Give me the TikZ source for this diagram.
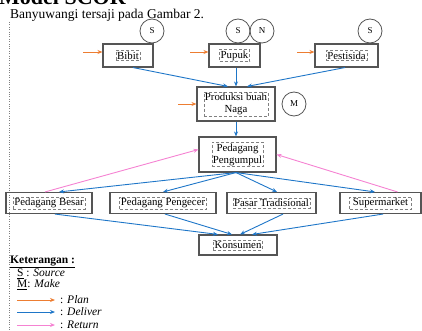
\documentclass[tikz,border=0pt]{standalone}
\usepackage{fontspec}
\setmainfont{Liberation Serif}
\usetikzlibrary{positioning,arrows.meta}
\definecolor{planorange}{RGB}{237,125,49}
\definecolor{deliverblue}{RGB}{30,118,200}
\definecolor{returnpink}{RGB}{245,130,210}
\definecolor{boxgray}{RGB}{85,85,85}

\begin{document}
\begin{tikzpicture}[x=1pt, y=-1pt,
    box/.style={draw=boxgray, line width=1.1pt, inner sep=0pt},
    txt/.style={draw=gray, densely dashed, line width=0.4pt, inner sep=1.2pt, align=center, font=\fontsize{10.8}{12}\selectfont},
    badge/.style={circle, draw=boxgray, line width=0.8pt, minimum size=24pt, inner sep=0pt, font=\fontsize{9}{9}\selectfont},
    plan/.style={-{Stealth[length=5pt,width=4pt]}, draw=planorange, line width=0.9pt},
    deliver/.style={-{Stealth[length=5pt,width=4pt]}, draw=deliverblue, line width=0.9pt},
    ret/.style={-{Stealth[length=5pt,width=4pt]}, draw=returnpink, line width=0.9pt},
    legtext/.style={anchor=west, inner sep=0pt, font=\fontsize{11.5}{12}\selectfont}]

        \useasboundingbox (0,0) rectangle (422,331);
        \clip (0,0) rectangle (422,331);

        % Page text above the figure
        \node[anchor=base west, inner sep=0pt, font=\fontsize{22}{22}\bfseries] (title) at (-1,5) {Model SCOR};
        \node[anchor=west, inner sep=0pt, font=\fontsize{13.5}{14}\selectfont] (intro) at (10,15) {Banyuwangi tersaji pada Gambar 2.};
        \coordinate (margintop) at (9,22);
        \coordinate (marginbot) at (9,331);
        \draw[gray, dotted] (margintop) -- (marginbot);

        % Input boxes
        \node[box, minimum width=50pt, minimum height=23pt] (bibit) at (128,55.5) {};
        \node[txt] (bibitT) at (bibit) {Bibit};
        \node[box, minimum width=51pt, minimum height=23pt] (pupuk) at (234.5,55.5) {};
        \node[txt] (pupukT) at (pupuk) {Pupuk};
        \node[box, minimum width=63pt, minimum height=23pt] (pestisida) at (346.5,55.5) {};
        \node[txt] (pestisidaT) at (pestisida) {Pestisida};

        % Circles on the boxes
        \node[badge] (bibitS) at (152,31) {S};
        \node[badge] (pupukS) at (238,31) {S};
        \node[badge] (pupukN) at (262,31) {N};
        \node[badge] (pestisidaS) at (370,31) {S};

        % Production and collector
        \node[box, minimum width=78pt, minimum height=34pt] (produksi) at (236,104) {};
        \node[txt] (produksiT) at (produksi) {Produksi buah\\Naga};
        \node[badge] (produksiM) at (294,104) {M};
        \node[box, minimum width=77pt, minimum height=35pt] (pengumpul) at (237.5,154.5) {};
        \node[txt] (pengumpulT) at (pengumpul) {Pedagang\\Pengumpul};

        % Distribution row
        \node[box, minimum width=86pt, minimum height=21pt] (besar) at (49,203) {};
        \node[txt] (besarT) at (besar) {Pedagang Besar};
        \node[box, minimum width=106pt, minimum height=21pt] (pengecer) at (163,203) {};
        \node[txt] (pengecerT) at (pengecer) {Pedagang Pengecer};
        \node[box, minimum width=89pt, minimum height=21pt] (pasar) at (271.5,203) {};
        \node[txt] (pasarT) at (pasar) {Pasar Tradisional};
        \node[box, minimum width=81pt, minimum height=21pt] (super) at (380.5,203) {};
        \node[txt, minimum width=62pt] (superT) at (super) {Supermarket};

        % Consumer
        \node[box, minimum width=78pt, minimum height=20pt] (konsumen) at (238,245) {};
        \node[txt] (konsumenT) at (konsumen) {Konsumen};

        % Plan arrows (orange)
        \coordinate (bibitIn) at (83,52);
        \coordinate (pupukIn) at (190,52);
        \coordinate (pestisidaIn) at (297,52);
        \coordinate (produksiIn) at (178,104);
        \draw[plan] (bibitIn) -- (bibitIn -| bibit.west);
        \draw[plan] (pupukIn) -- (pupukIn -| pupuk.west);
        \draw[plan] (pestisidaIn) -- (pestisidaIn -| pestisida.west);
        \draw[plan] (produksiIn) -- (produksi.west);

        % Deliver arrows (blue)
        \draw[deliver] ([xshift=5pt]bibit.south) -- ([xshift=-8pt]produksi.north);
        \draw[deliver] (pupuk.south -| produksi.north) -- (produksi.north);
        \draw[deliver] ([xshift=-1.5pt]pestisida.south) -- ([xshift=11pt]produksi.north);
        \draw[deliver] (produksi.south) -- (pengumpul.north -| produksi.south);
        \draw[deliver] ([xshift=-1.5pt]pengumpul.south) -- ([xshift=10pt]besar.north);
        \draw[deliver] ([xshift=-1.5pt]pengumpul.south) -- (pengecer.north);
        \draw[deliver] ([xshift=-1.5pt]pengumpul.south) -- ([xshift=5.5pt]pasar.north);
        \draw[deliver] ([xshift=-1.5pt]pengumpul.south) -- ([xshift=-5.5pt]super.north);
        \draw[deliver] ([xshift=6pt]besar.south) -- ([xshift=-20pt]konsumen.north);
        \draw[deliver] ([xshift=2pt]pengecer.south) -- ([xshift=-6pt]konsumen.north);
        \draw[deliver] ([xshift=11.5pt]pasar.south) -- ([xshift=2pt]konsumen.north);
        \draw[deliver] ([xshift=2.5pt]super.south) -- ([xshift=14pt]konsumen.north);

        % Return arrows (pink)
        \draw[ret] ([xshift=-4pt]besar.north) -- ([yshift=5pt]pengumpul.west);
        \draw[ret] ([xshift=17pt]super.north) -- (pengumpul.east);

        % Legend
        \node[legtext, font=\fontsize{11.5}{12}\bfseries] (ket) at (10,262) {\underline{Keterangan :}};
        \node[legtext] (legS) at (17,274) {\underline{S} : \textit{Source}};
        \node[legtext] (legM) at (17,285) {\underline{M}: \textit{Make}};
        \coordinate (planA) at (17,300);
        \coordinate (planB) at (55,300);
        \coordinate (deliverA) at (17,312);
        \coordinate (deliverB) at (55,312);
        \coordinate (returnA) at (17,325);
        \coordinate (returnB) at (55,325);
        \draw[plan] (planA) -- (planB);
        \draw[deliver] (deliverA) -- (deliverB);
        \draw[ret] (returnA) -- (returnB);
        \node[legtext] (legPlan) at (60,300) {: \textit{Plan}};
        \node[legtext] (legDeliver) at (60,312) {: \textit{Deliver}};
        \node[legtext] (legReturn) at (60,325) {: \textit{Return}};
    \end{tikzpicture}
\end{document}
